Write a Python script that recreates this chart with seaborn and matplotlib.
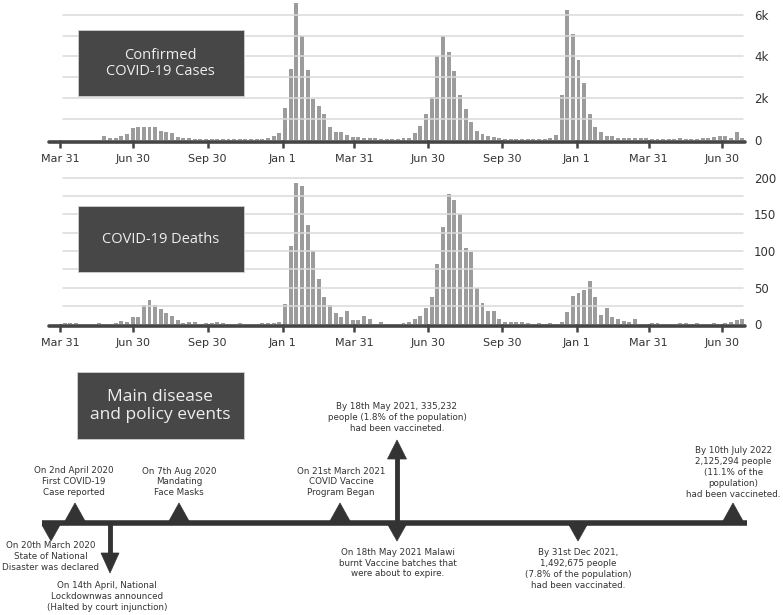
import matplotlib
matplotlib.use("Agg")
import matplotlib.dates as mdates
import matplotlib.pyplot as plt
import pandas as pd
import seaborn as sns
from matplotlib.patches import Polygon, Rectangle

# weekly series, first bar is the week of 23 March 2020
first_week = "2020-03-23"

cases_thousands = [
    0.0, 0.0, 0.0, 0.01, 0.01, 0.01, 0.01, 0.01, 0.02, 0.19,
    0.11, 0.11, 0.19, 0.29, 0.56, 0.62, 0.62, 0.62, 0.62, 0.45,
    0.38, 0.34, 0.15, 0.09, 0.08, 0.06, 0.06, 0.04, 0.05, 0.05,
    0.05, 0.03, 0.03, 0.04, 0.04, 0.04, 0.05, 0.07, 0.11, 0.19,
    0.35, 1.55, 3.4, 6.56, 5.0, 3.33, 1.97, 1.63, 1.25, 0.6,
    0.37, 0.4, 0.22, 0.16, 0.13, 0.1, 0.08, 0.08, 0.07, 0.07,
    0.07, 0.07, 0.08, 0.11, 0.32, 0.69, 1.23, 2.08, 4.03, 5.0,
    4.2, 3.31, 2.14, 1.47, 0.88, 0.45, 0.27, 0.2, 0.16, 0.11,
    0.07, 0.05, 0.05, 0.04, 0.04, 0.05, 0.05, 0.06, 0.08, 0.24,
    2.13, 6.2, 5.07, 3.84, 2.75, 1.23, 0.6, 0.37, 0.21, 0.19,
    0.11, 0.1, 0.1, 0.08, 0.08, 0.08, 0.07, 0.05, 0.03, 0.03,
    0.03, 0.08, 0.06, 0.05, 0.05, 0.11, 0.11, 0.16, 0.19, 0.19,
    0.08, 0.37, 0.11,
]

deaths = [
    0, 0, 2, 2, 2, 0, 0, 0, 2, 0,
    0, 2, 5, 3, 10, 10, 26, 33, 27, 21,
    15, 12, 6, 2, 3, 3, 0, 2, 2, 3,
    2, 0, 0, 2, 0, 0, 0, 2, 2, 2,
    4, 28, 107, 193, 188, 135, 100, 62, 37, 26,
    15, 10, 19, 6, 6, 11, 8, 1, 4, 0,
    0, 1, 2, 3, 8, 12, 23, 37, 82, 133,
    177, 170, 150, 104, 98, 49, 29, 19, 18, 7,
    4, 4, 3, 3, 2, 0, 2, 0, 2, 0,
    4, 17, 39, 43, 47, 59, 37, 13, 23, 10,
    8, 5, 3, 7, 0, 0, 2, 2, 1, 1,
    0, 2, 2, 1, 2, 0, 1, 2, 0, 2,
    4, 6, 7,
]

tick_dates = ["2020-03-31", "2020-06-30", "2020-09-30", "2021-01-01", "2021-03-31",
              "2021-06-30", "2021-09-30", "2022-01-01", "2022-03-31", "2022-06-30"]
tick_labels = ["Mar 31", "Jun 30", "Sep 30", "Jan 1", "Mar 31",
               "Jun 30", "Sep 30", "Jan 1", "Mar 31", "Jun 30"]

case_ticks = [0, 2, 4, 6]
case_tick_labels = ["0", "2k", "4k", "6k"]
death_ticks = [0, 50, 100, 150, 200]
death_tick_labels = ["0", "50", "100", "150", "200"]

event_texts = [
    "On 20th March 2020\nState of National\nDisaster was declared",
    "On 2nd April 2020\nFirst COVID-19\nCase reported",
    "On 14th April, National\nLockdownwas announced\n(Halted by court injunction)",
    "On 7th Aug 2020\nMandating\nFace Masks",
    "On 21st March 2021\nCOVID Vaccine\nProgram Began",
    "By 18th May 2021, 335,232\npeople (1.8% of the population)\nhad been vaccineted.",
    "On 18th May 2021 Malawi\nburnt Vaccine batches that\nwere about to expire.",
    "By 31st Dec 2021,\n1,492,675 people\n(7.8% of the population)\nhad been vaccinated.",
    "By 10th July 2022\n2,125,294 people\n(11.1% of the\npopulation)\nhad been vaccineted.",
]
# schematic timeline layout in pixels: marker x, marker kind, text centre
event_layout = [
    (51, "down", 51, 556.5),
    (75, "up", 74, 481.5),
    (110, "long_down", 107, 596.5),
    (179, "up", 179, 482),
    (340, "up", 341, 482),
    (397, "long_up", 397, 417.5),
    (397, "down", 398, 563),
    (578, "down", 578, 569),
    (733, "up", 733.5, 472.5),
]

W, H = 783, 615
DARK = "#333333"
BAR = "#9c9c9c"
GRID = "#dadada"

sns.set_style("white")
plt.rcParams["font.family"] = ["DejaVu Sans"]

weeks = pd.date_range(first_week, periods=len(cases_thousands), freq="7D")
x_left = mdates.date2num(pd.Timestamp("2020-03-31")) - 13.6
x_right = mdates.date2num(pd.Timestamp("2022-06-30")) + 28.5


def px_axes(fig, left, top, right, bottom):
    return fig.add_axes([left / W, 1 - bottom / H, (right - left) / W, (bottom - top) / H])


def draw_bars(ax, values, ymax, height_px, grid_step, ticks, labels):
    df = pd.DataFrame({"date": mdates.date2num(weeks), "value": values})
    sns.barplot(data=df, x="date", y="value", native_scale=True, color=BAR,
                saturation=1, width=0.7, errorbar=None, linewidth=0, ax=ax)
    ax.set_xlim(x_left, x_right)
    ax.set_ylim(0, ymax)
    level = grid_step
    while level <= ticks[-1] + 1e-9:
        ax.axhline(level, xmin=0.02, xmax=0.997, color=GRID, lw=1.1, zorder=3)
        level += grid_step
    # thick base line sitting just under the bars
    ax.axhline(-1.8 * ymax / height_px, color="#454545", lw=2.6, zorder=4, clip_on=False)
    for side in ["top", "right", "left", "bottom"]:
        ax.spines[side].set_visible(False)
    ax.set_xlabel("")
    ax.set_ylabel("")
    ax.set_xticks(mdates.date2num(pd.to_datetime(tick_dates)))
    ax.set_xticklabels(tick_labels)
    ax.tick_params(axis="x", length=5.5, width=1.8, color="#444444", labelsize=8,
                   labelcolor=DARK, pad=4.5, bottom=True)
    ax.yaxis.tick_right()
    ax.set_yticks(ticks)
    ax.set_yticklabels(labels)
    ax.tick_params(axis="y", length=0, pad=6.5, labelsize=8.5, labelcolor=DARK)


fig = plt.figure(figsize=(W / 100, H / 100), dpi=100)

ax_cases = px_axes(fig, 49, 0, 745, 140)
draw_bars(ax_cases, cases_thousands, 6.70, 140, 1, case_ticks, case_tick_labels)

ax_deaths = px_axes(fig, 49, 172, 745, 324.5)
draw_bars(ax_deaths, deaths, 207.5, 152.5, 25, death_ticks, death_tick_labels)

# overlay in pixel coordinates for the labels and the event timeline
ov = fig.add_axes([0, 0, 1, 1], zorder=10)
ov.set_xlim(0, W)
ov.set_ylim(H, 0)
ov.axis("off")
ov.patch.set_visible(False)

boxes = [
    ((77.5, 30), 66, "Confirmed\nCOVID-19 Cases", 10.5),
    ((77.5, 206), 66, "COVID-19 Deaths", 10.5),
    ((77, 372), 66.5, "Main disease\nand policy events", 12.5),
]
for (bx, by), bh, label, size in boxes:
    ov.add_patch(Rectangle((bx, by), 166.5, bh, facecolor="#474747",
                           edgecolor="#d0d0d0", lw=0.6))
    ov.text(bx + 83.25, by + bh / 2 + 0.5, label, ha="center", va="center",
            color="#eeeeee", fontsize=size, family=["Open Sans", "DejaVu Sans"],
            linespacing=1.15)

ov.plot([42, 747], [523, 523], color=DARK, lw=4, solid_capstyle="butt")

for (mx, kind, tx, ty), label in zip(event_layout, event_texts):
    if kind == "up":
        tri = [(mx - 10, 521), (mx + 10, 521), (mx, 503)]
    elif kind == "down":
        tri = [(mx - 9, 525), (mx + 9, 525), (mx, 541)]
    elif kind == "long_down":
        ov.plot([mx, mx], [523, 555], color=DARK, lw=3.5, solid_capstyle="butt")
        tri = [(mx - 9, 553), (mx + 9, 553), (mx, 573)]
    else:
        ov.plot([mx, mx], [523, 457], color=DARK, lw=3.5, solid_capstyle="butt")
        tri = [(mx - 9.5, 459), (mx + 9.5, 459), (mx, 440)]
    ov.add_patch(Polygon(tri, closed=True, facecolor=DARK, edgecolor=DARK, lw=0.5))
    ov.text(tx, ty, label, ha="center", va="center", fontsize=6.3,
            color=DARK, linespacing=1.28, multialignment="center")

fig.savefig("out.png", dpi=100)
plt.close(fig)
